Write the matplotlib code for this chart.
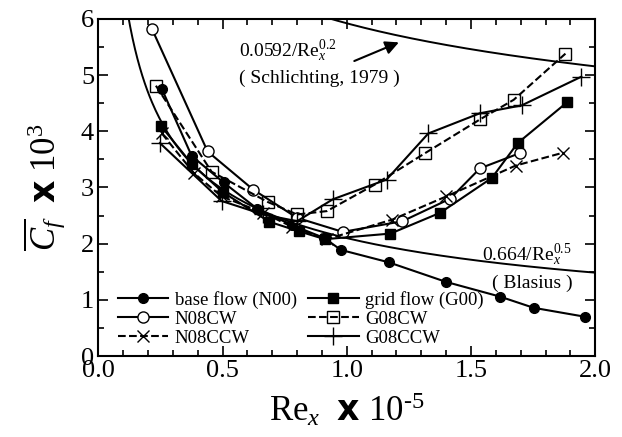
import numpy as np
import matplotlib
matplotlib.use('Agg')
import matplotlib.pyplot as plt
from matplotlib.ticker import MultipleLocator

plt.rcParams['font.family'] = 'Liberation Serif'
plt.rcParams['mathtext.fontset'] = 'custom'
plt.rcParams['mathtext.rm'] = 'Liberation Serif'
plt.rcParams['mathtext.it'] = 'Liberation Serif:italic'
plt.rcParams['mathtext.bf'] = 'DejaVu Sans:bold'

# base flow (N00)
n00_x = [0.256, 0.376, 0.504, 0.64, 0.78, 0.91, 0.976, 1.168, 1.40, 1.616, 1.752, 1.96]
n00_y = [4.75, 3.56, 3.09, 2.62, 2.33, 2.10, 1.89, 1.67, 1.32, 1.06, 0.86, 0.70]
# grid flow (G00)
g00_x = [0.253, 0.376, 0.50, 0.688, 0.808, 0.912, 1.176, 1.376, 1.584, 1.688, 1.888]
g00_y = [4.09, 3.42, 2.92, 2.39, 2.22, 2.08, 2.18, 2.55, 3.17, 3.79, 4.52]
# N08CW
n08cw_x = [0.216, 0.44, 0.624, 0.80, 0.984, 1.224, 1.416, 1.536, 1.696]
n08cw_y = [5.82, 3.64, 2.96, 2.46, 2.21, 2.40, 2.80, 3.34, 3.61]
# N08CCW
n08ccw_x = [0.256, 0.384, 0.496, 0.664, 0.78, 0.92, 1.184, 1.40, 1.68, 1.872]
n08ccw_y = [3.96, 3.26, 2.84, 2.55, 2.30, 2.08, 2.43, 2.84, 3.39, 3.62]
# G08CW
g08cw_x = [0.232, 0.456, 0.683, 0.80, 0.92, 1.112, 1.315, 1.536, 1.672, 1.88]
g08cw_y = [4.81, 3.28, 2.74, 2.52, 2.58, 3.05, 3.61, 4.21, 4.56, 5.38]
# G08CCW
g08ccw_x = [0.248, 0.496, 0.664, 0.80, 0.944, 1.16, 1.328, 1.536, 1.704, 1.944]
g08ccw_y = [3.79, 2.76, 2.52, 2.40, 2.79, 3.14, 3.96, 4.32, 4.46, 4.97]

# correlations written on the chart
re = np.linspace(0.05, 2.0, 400)
blasius = 0.664 / np.sqrt(re * 1e5) * 1e3
schlichting = 0.0592 / (re * 1e5) ** 0.2 * 1e3

fig = plt.figure(figsize=(6.22, 4.37), dpi=100)
ax = fig.add_axes([0.158, 0.185, 0.799, 0.772])

ax.plot(re, blasius, 'k-', lw=1.4)
ax.plot(re, schlichting, 'k-', lw=1.4)

ms = 7
ax.plot(n00_x, n00_y, 'k-', marker='o', ms=ms, lw=1.5, label='base flow (N00)')
ax.plot(n08cw_x, n08cw_y, 'k-', marker='o', mfc='white', ms=ms + 1, lw=1.5, label='N08CW')
ax.plot(n08ccw_x, n08ccw_y, 'k--', marker='x', ms=ms + 2, mew=1.0, lw=1.5, label='N08CCW')
ax.plot(g00_x, g00_y, 'k-', marker='s', ms=ms, lw=1.5, label='grid flow (G00)')
ax.plot(g08cw_x, g08cw_y, 'k--', marker='s', mfc='none', ms=ms + 2, mew=1.0, lw=1.5, label='G08CW')
ax.plot(g08ccw_x, g08ccw_y, 'k-', marker='+', ms=ms + 6, mew=1.0, lw=1.5, label='G08CCW')

ax.text(0.565, 5.43, r'0.0592/Re$_x^{0.2}$', fontsize=14, va='center')
ax.text(0.565, 4.94, '( Schlichting, 1979 )', fontsize=14, va='center')
ax.annotate('', xy=(1.22, 5.6), xytext=(1.02, 5.23),
            arrowprops=dict(arrowstyle='-|>', color='k', lw=1.5, mutation_scale=20))
ax.text(1.905, 1.79, r'0.664/Re$_x^{0.5}$', fontsize=14, va='center', ha='right')
ax.text(1.91, 1.29, '( Blasius )', fontsize=14, va='center', ha='right')

ax.set_xlim(0, 2.0)
ax.set_ylim(0, 6)
ax.set_xticks([0, 0.5, 1.0, 1.5, 2.0])
ax.set_xticklabels(['0.0', '0.5', '1.0', '1.5', '2.0'])
ax.xaxis.set_minor_locator(MultipleLocator(0.1))
ax.yaxis.set_major_locator(MultipleLocator(1))
ax.yaxis.set_minor_locator(MultipleLocator(0.5))
ax.tick_params(which='both', direction='in', top=True, right=True, labelsize=19, width=1.2)
ax.tick_params(which='major', length=7, pad=3)
ax.tick_params(which='minor', length=4)
for s in ax.spines.values():
    s.set_linewidth(1.5)

# the "0" sits just above "0.0" in the original
fig.canvas.draw()
ax.yaxis.get_major_ticks()[0].label1.set_verticalalignment('bottom')

ax.set_xlabel(r'Re$_x$  $\mathbf{x}$ 10$^{\text{-5}}$', fontsize=25, labelpad=6)
ax.set_ylabel(r'$\overline{C_f}$  $\mathbf{x}$ 10$^{3}$', fontsize=25, labelpad=10)

ax.legend(loc='lower left', ncol=2, frameon=False, fontsize=13.5, handlelength=2.7,
          columnspacing=0.6, labelspacing=0.1, borderaxespad=0.1, handletextpad=0.35,
          bbox_to_anchor=(0.02, 0.0))

fig.savefig('out.png', dpi=100)
